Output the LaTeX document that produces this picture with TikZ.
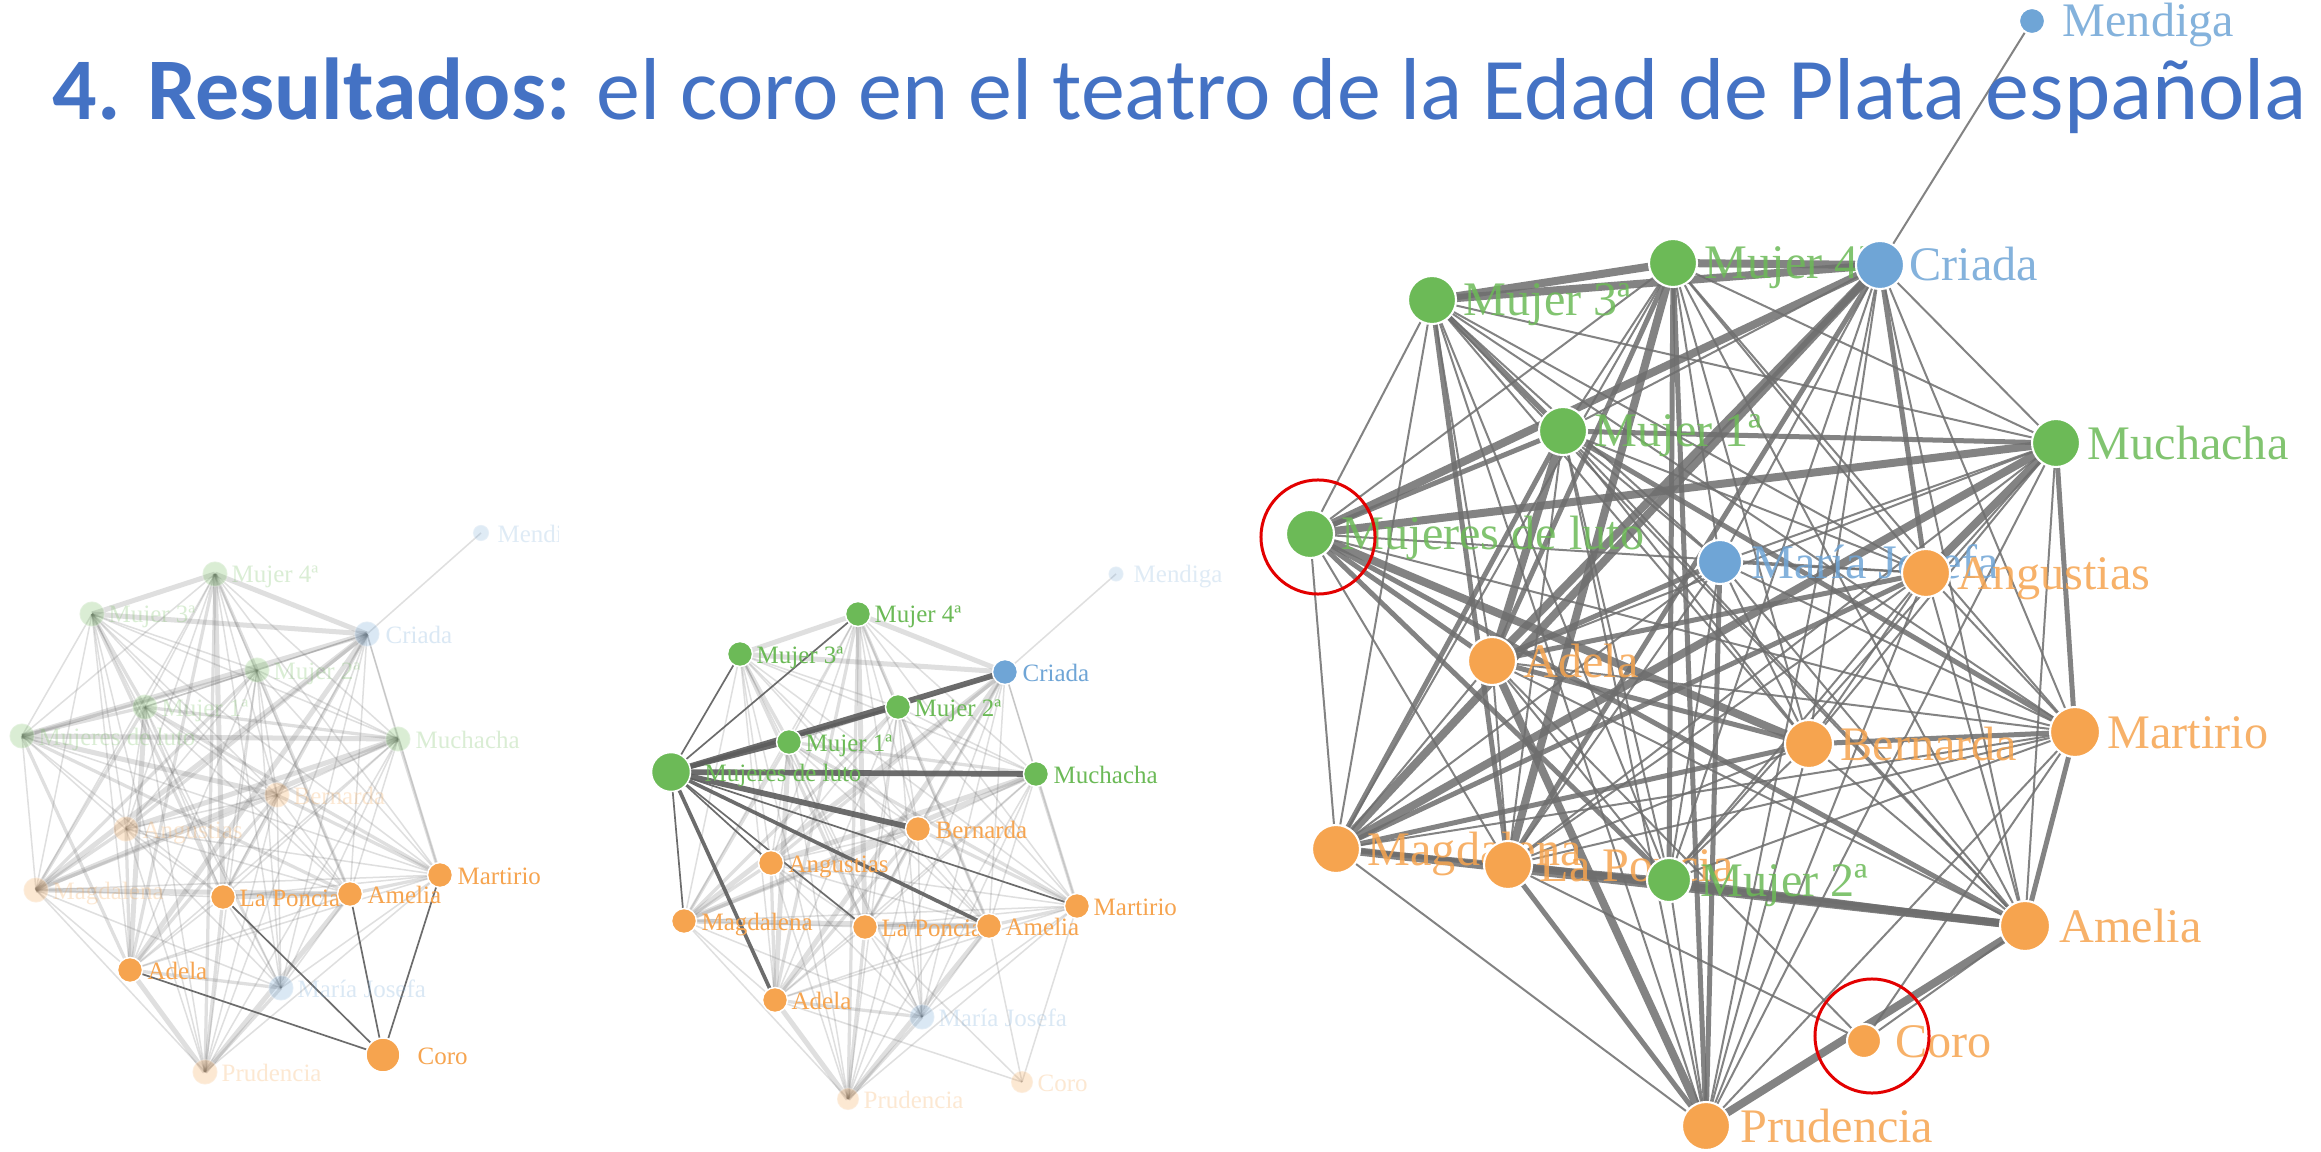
\documentclass[tikz,border=0pt]{standalone}
\usepackage{fontspec}
\setmainfont{Liberation Serif}
\newfontfamily\titlefont{Carlito}
\definecolor{ngreen}{HTML}{6CBA57}
\definecolor{nblue}{HTML}{6FA5D6}
\definecolor{norange}{HTML}{F6A44F}
\definecolor{titleblue}{HTML}{4472C4}
\definecolor{edgegray}{HTML}{6E6E6E}
\definecolor{ringred}{HTML}{E30000}
\pgfdeclarelayer{bg}
\pgfdeclarelayer{edges}
\pgfsetlayers{bg,edges,main}
\tikzset{
  netnode/.style={circle, inner sep=0pt, draw=white, line width=0.43pt},
  netnodeR/.style={circle, inner sep=0pt, draw=white, line width=0.6pt},
  smalllab/.style={anchor=base west, inner sep=0pt, font=\fontsize{7.1pt}{8pt}\selectfont},
  biglab/.style={anchor=base west, inner sep=0pt, font=\fontsize{13.7pt}{15pt}\selectfont},
  fadeedge/.style={draw=edgegray, opacity=0.22},
  darkedge/.style={draw=edgegray!85!black, opacity=0.9},
  rightedge/.style={draw=edgegray, opacity=0.85},
  ring/.style={circle, draw=ringred, line width=0.85pt, inner sep=0pt, minimum size=1.14cm},
}
% edges among the core characters
\def\edgelist{M4/M3/3, M4/M2/2, M4/M1/1, M4/MU/1, M4/CR/3, M4/MJ/1, M4/BE/1, M4/AN/1, M4/MG/1, M4/LP/3, M4/AM/1, M4/MA/1, M4/AD/2, M4/PR/2,
M3/M2/1, M3/M1/2, M3/MU/1, M3/CR/3, M3/MJ/1, M3/BE/1, M3/AN/1, M3/MG/1, M3/LP/2, M3/AM/1, M3/MA/1, M3/AD/1, M3/PR/1,
M2/M1/1, M2/MU/1, M2/CR/1, M2/MJ/1, M2/BE/1, M2/AN/1, M2/MG/2, M2/LP/1, M2/AM/2, M2/MA/1, M2/AD/1, M2/PR/1,
M1/MU/2, M1/CR/1, M1/MJ/1, M1/BE/1, M1/AN/1, M1/MG/2, M1/LP/1, M1/AM/1, M1/MA/2, M1/AD/3, M1/PR/1,
MU/CR/1, MU/MJ/1, MU/BE/1, MU/AN/3, MU/MG/3, MU/LP/1, MU/AM/1, MU/MA/2, MU/AD/1, MU/PR/1,
CR/MJ/1, CR/BE/1, CR/AN/2, CR/MG/3, CR/LP/2, CR/AM/1, CR/MA/1, CR/AD/3, CR/PR/1, CR/ME/1,
MJ/BE/1, MJ/AN/1, MJ/MG/1, MJ/LP/1, MJ/AM/1, MJ/MA/1, MJ/AD/2, MJ/PR/2,
BE/AN/1, BE/MG/2, BE/LP/1, BE/AM/1, BE/MA/2, BE/AD/2, BE/PR/1,
AN/MG/2, AN/LP/1, AN/AM/1, AN/MA/1, AN/AD/2, AN/PR/1,
MG/LP/1, MG/AM/3, MG/MA/1, MG/AD/1, MG/PR/1,
LP/AM/3, LP/MA/1, LP/AD/1, LP/PR/2,
AM/MA/2, AM/AD/1, AM/PR/3,
MA/AD/1, MA/PR/1,
AD/PR/3}
\def\lutoedges{ML/M4/1, ML/M3/1, ML/CR/3, ML/M2/2, ML/M1/2, ML/MU/3, ML/BE/3, ML/AN/1, ML/MG/1, ML/LP/1, ML/AM/2, ML/MA/1, ML/AD/2}
\def\coroedges{CO/AD/1, CO/LP/1, CO/AM/1, CO/MA/1}
% name/x/y/colour/radius/label dx/opacity/label
\def\leftnodes{ME/481/533/nblue/8/16/0.22/Mendiga,
M4/215/574/ngreen/12.5/16/0.25/Mujer 4ª,
M3/92/614/ngreen/12.5/16/0.25/Mujer 3ª,
CR/367/634/nblue/12.5/18/0.25/Criada,
M2/257/670/ngreen/12.5/16/0.25/Mujer 2ª,
M1/145/707/ngreen/12.5/16/0.25/Mujer 1ª,
ML/22/736/ngreen/12.5/16/0.25/Mujeres de luto,
MU/398/739/ngreen/12.5/17/0.25/Muchacha,
BE/277/795/norange/12.5/16/0.25/Bernarda,
AN/126/829/norange/12.5/16/0.25/Angustias,
MG/36/890/norange/12.5/16/0.25/Magdalena,
LP/223/897/norange/12.5/16/1/La Poncia,
AM/350/894/norange/12.5/17/1/Amelia,
MA/440/875/norange/12.5/17/1/Martirio,
AD/130/970/norange/12.5/17/1/Adela,
MJ/281/988/nblue/12.5/16/0.25/María Josefa,
CO/383/1055/norange/17/34/1/Coro,
PR/205/1072/norange/12.5/16/0.25/Prudencia}
\def\midnodes{ME/1116/574/nblue/7.5/17/0.22/Mendiga,
M4/858/614/ngreen/12.5/16/1/Mujer 4ª,
M3/740/654/ngreen/12.5/16/1/Mujer 3ª,
CR/1005/672/nblue/12.5/17/1/Criada,
M2/898/707/ngreen/12.5/16/1/Mujer 2ª,
M1/789/742/ngreen/12.5/16/1/Mujer 1ª,
ML/671/772/ngreen/19.5/33/1/Mujeres de luto,
MU/1036/774/ngreen/12.5/17/1/Muchacha,
BE/918/829/norange/12.5/17/1/Bernarda,
AN/771/863/norange/12.5/17/1/Angustias,
MG/684/921/norange/12.5/17/1/Magdalena,
LP/865/927/norange/12.5/16/1/La Poncia,
AM/989/926/norange/12.5/16/1/Amelia,
MA/1077/906/norange/12.5/16/1/Martirio,
AD/775/1000/norange/12.5/16/1/Adela,
MJ/922/1017/nblue/12.5/16/0.25/María Josefa,
CO/1022/1082/norange/11/15/0.25/Coro,
PR/848/1099/norange/11/15/0.25/Prudencia}
\def\rightnodes{ME/2032/21/nblue/13/30/1/Mendiga,
M4/1673/263/ngreen/24/31/1/Mujer 4ª,
CR/1880/265/nblue/24/29/1/Criada,
M3/1432/300/ngreen/24/31/1/Mujer 3ª,
M1/1563/431/ngreen/24/31/1/Mujer 1ª,
MU/2056/443/ngreen/24/31/1/Muchacha,
ML/1310/534/ngreen/24/31/1/Mujeres de luto,
MJ/1720/562/nblue/22/31/1/María Josefa,
AN/1926/573/norange/24/31/1/Angustias,
AD/1492/661/norange/24/31/1/Adela,
BE/1809/744/norange/24/31/1/Bernarda,
MA/2075/732/norange/25/32/1/Martirio,
MG/1336/849/norange/24/31/1/Magdalena,
LP/1508/865/norange/24/31/1/La Poncia,
M2/1669/880/ngreen/22/31/1/Mujer 2ª,
AM/2025/926/norange/25/34/1/Amelia,
CO/1864/1041/norange/17/31/1/Coro,
PR/1706/1126/norange/24/34/1/Prudencia}
\begin{document}
\begin{tikzpicture}[x=0.01cm, y=-0.01cm]
\useasboundingbox (0,0) rectangle (2321,1152);
\begin{pgfonlayer}{bg}
\fill[white] (0,0) rectangle (2321,1152);
\end{pgfonlayer}

% title
\node[anchor=base west, inner sep=0pt, text=titleblue, font=\titlefont\fontsize{25pt}{30pt}\selectfont] (title) at (52,120)
  {\textbf{4. Resultados:} el coro en el teatro de la Edad de Plata española};

% ---------- left network (Coro highlighted) ----------
\begin{scope}
\clip (0,0) rectangle (558,1152);
\foreach \n/\x/\y/\c/\r/\dx/\op/\lab [evaluate=\r as \d using 0.02*\r] in \leftnodes {
  \node[netnode, minimum size=\d cm, fill=\c, opacity=\op] (L-\n) at (\x,\y) {};
  \node[smalllab, text=\c, opacity=\op] (L-\n-t) at ([shift={(\dx,9)}]L-\n.center) {\lab};
}
\end{scope}
\begin{pgfonlayer}{edges}
\foreach \a/\b/\w [evaluate=\w as \lw using (1.75*\w-0.25)*0.28453] in \edgelist {
  \draw[fadeedge, line width=\lw pt] (L-\a.center) -- (L-\b.center);
}
\foreach \a/\b/\w [evaluate=\w as \lw using (1.75*\w-0.25)*0.28453] in \lutoedges {
  \draw[fadeedge, line width=\lw pt] (L-\a.center) -- (L-\b.center);
}
\foreach \a/\b/\w [evaluate=\w as \lw using (2*\w-0.3)*0.28453] in \coroedges {
  \draw[darkedge, line width=\lw pt] (L-\a.center) -- (L-\b.center);
}
\end{pgfonlayer}

% ---------- middle network (Mujeres de luto highlighted) ----------
\foreach \n/\x/\y/\c/\r/\dx/\op/\lab [evaluate=\r as \d using 0.02*\r] in \midnodes {
  \node[netnode, minimum size=\d cm, fill=\c, opacity=\op] (C-\n) at (\x,\y) {};
  \node[smalllab, text=\c, opacity=\op] (C-\n-t) at ([shift={(\dx,9)}]C-\n.center) {\lab};
}
\begin{pgfonlayer}{edges}
\foreach \a/\b/\w [evaluate=\w as \lw using (1.75*\w-0.25)*0.28453] in \edgelist {
  \draw[fadeedge, line width=\lw pt] (C-\a.center) -- (C-\b.center);
}
\foreach \a/\b/\w [evaluate=\w as \lw using (1.75*\w-0.25)*0.28453] in \coroedges {
  \draw[fadeedge, line width=\lw pt] (C-\a.center) -- (C-\b.center);
}
\foreach \a/\b/\w [evaluate=\w as \lw using (2*\w-0.3)*0.28453] in \lutoedges {
  \draw[darkedge, line width=\lw pt] (C-\a.center) -- (C-\b.center);
}
\end{pgfonlayer}

% ---------- right network (full) ----------
\foreach \n/\x/\y/\c/\r/\dx/\op/\lab [evaluate=\r as \d using 0.02*\r] in \rightnodes {
  \node[netnodeR, minimum size=\d cm, fill=\c] (R-\n) at (\x,\y) {};
  \node[biglab, text=\c, opacity=0.85] (R-\n-t) at ([shift={(\dx,16)}]R-\n.center) {\lab};
}
\begin{pgfonlayer}{edges}
\foreach \a/\b/\w [evaluate=\w as \lw using (3*\w-1)*0.28453] in \edgelist {
  \draw[rightedge, line width=\lw pt] (R-\a.center) -- (R-\b.center);
}
\foreach \a/\b/\w [evaluate=\w as \lw using (3*\w-1)*0.28453] in \lutoedges {
  \draw[rightedge, line width=\lw pt] (R-\a.center) -- (R-\b.center);
}
\foreach \a/\b/\w [evaluate=\w as \lw using (3*\w-1)*0.28453] in \coroedges {
  \draw[rightedge, line width=\lw pt] (R-\a.center) -- (R-\b.center);
}
\end{pgfonlayer}

% red highlight rings
\node[ring] (ring1) at (1318,537) {};
\node[ring] (ring2) at (1872,1036) {};
\end{tikzpicture}
\end{document}
